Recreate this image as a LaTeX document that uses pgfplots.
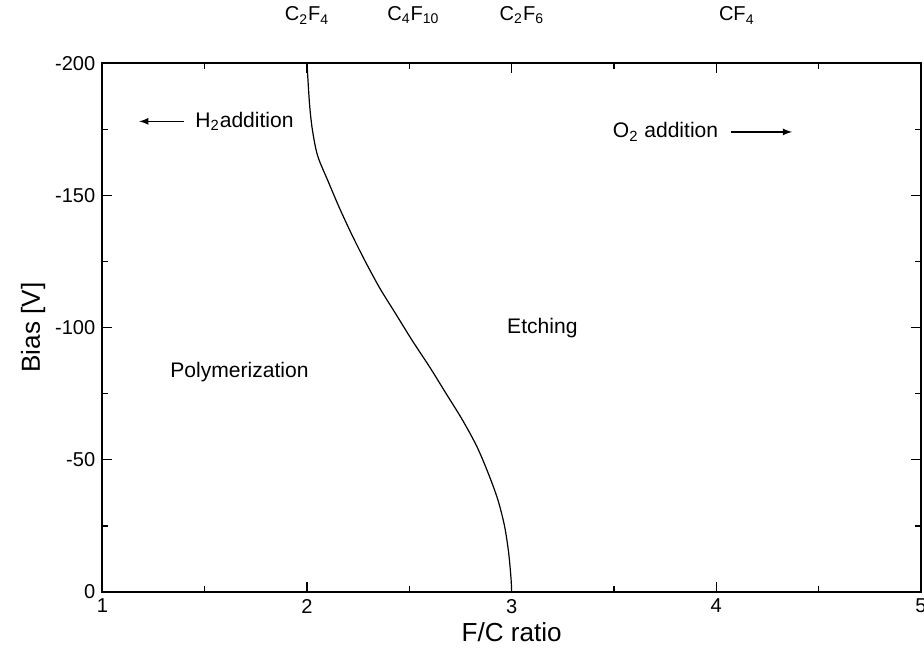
\documentclass[border=0pt]{standalone}
\usepackage{pgfplots}
\pgfplotsset{compat=1.18}
\usepackage{fontspec}
\setmainfont{Liberation Sans}
\begin{document}
\begin{tikzpicture}
\begin{axis}[
    name=main,
    scale only axis,
    width=408pt, height=263.5pt,
    xmin=1, xmax=5, ymin=-200, ymax=0,
    y dir=reverse,
    xtick={1,2,3,4,5},
    ytick={-200,-150,-100,-50,0},
    minor x tick num=1,
    minor y tick num=1,
    tick align=inside,
    major tick length=5pt,
    minor tick length=3pt,
    axis line style={line width=0.9pt},
    every tick/.style={line width=0.7pt, black},
    tick label style={font=\fontsize{10}{12}\selectfont},
    /pgf/number format/assume math mode=true,
    xlabel={F/C ratio},
    ylabel={Bias [V]},
    label style={font=\fontsize{13}{15}\selectfont},
    xlabel style={yshift=2pt},
    ylabel style={yshift=-2pt},
    clip=false,
  ]
  \addplot[black, line width=0.6pt, smooth, tension=0.5] coordinates {
    (2.000,-200) (2.012,-185) (2.026,-175) (2.052,-165) (2.105,-155)
    (2.160,-145) (2.220,-135) (2.285,-125) (2.355,-115) (2.435,-105)
    (2.515,-95) (2.600,-85) (2.680,-75) (2.760,-65) (2.830,-55)
    (2.885,-45) (2.932,-35) (2.965,-25) (2.985,-15) (2.997,-5) (3.000,0)
  };
  % top labels
  \node[anchor=south, font=\fontsize{10}{12}\selectfont] at (axis cs:2,-200) [yshift=16pt] {C\textsubscript{2}F\textsubscript{4}};
  \node[anchor=south, font=\fontsize{10}{12}\selectfont] at (axis cs:2.52,-200) [yshift=16pt] {C\textsubscript{4}F\textsubscript{10}};
  \node[anchor=south, font=\fontsize{10}{12}\selectfont] at (axis cs:3.05,-200) [yshift=16pt] {C\textsubscript{2}F\textsubscript{6}};
  \node[anchor=south, font=\fontsize{10}{12}\selectfont] at (axis cs:4.1,-200) [yshift=16pt] {CF\textsubscript{4}};
  % annotations
  \node[font=\fontsize{10.5}{13}\selectfont] at (axis cs:1.67,-83) {Polymerization};
  \node[font=\fontsize{10.5}{13}\selectfont] at (axis cs:3.15,-100) {Etching};
  \node[anchor=west, font=\fontsize{10.5}{13}\selectfont] at (axis cs:1.42,-178) {H\textsubscript{2}addition};
  \draw[-latex, line width=0.6pt] (axis cs:1.40,-178) -- (axis cs:1.18,-178);
  \node[anchor=west, font=\fontsize{10.5}{13}\selectfont] at (axis cs:3.46,-174) {O\textsubscript{2} addition};
  \draw[-latex, line width=0.6pt] (axis cs:4.07,-174) -- (axis cs:4.37,-174);
\end{axis}
\pgfresetboundingbox
\useasboundingbox ([xshift=-51pt,yshift=-36pt]main.south west) rectangle ([xshift=1.5pt,yshift=31.5pt]main.north east);
\end{tikzpicture}
\end{document}
